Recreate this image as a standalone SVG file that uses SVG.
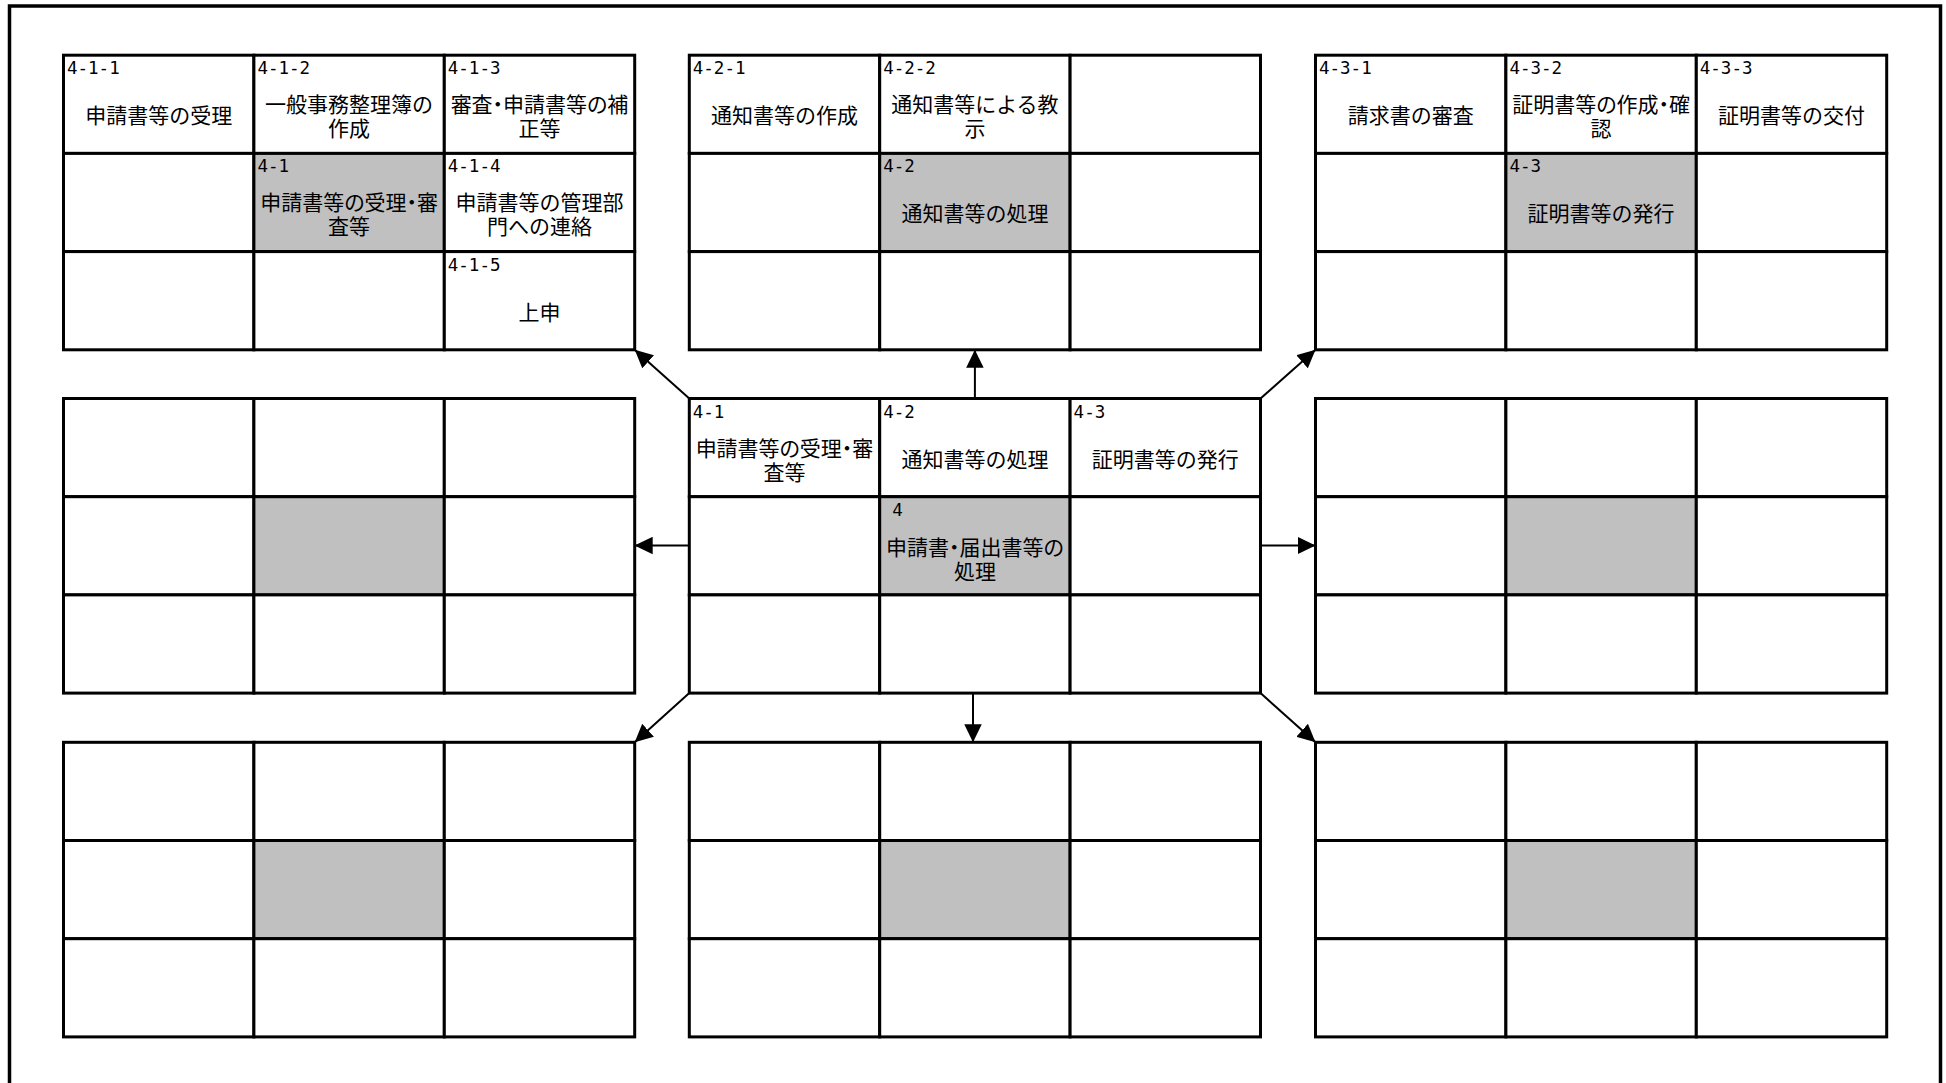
<svg xmlns="http://www.w3.org/2000/svg" width="1946" height="1083" viewBox="0 0 1946 1083">
<style>
.cell{fill:#fff;stroke:#000;stroke-width:3}
.hl{fill:#c0c0c0}
.lbl{font-family:"DejaVu Sans Mono","Liberation Mono",monospace;font-size:17.5px;fill:#000}
.txt{font-family:"Noto Sans CJK JP","Noto Sans CJK SC",sans-serif;font-size:21px;text-anchor:middle;fill:#000}
.p{font-feature-settings:"palt" 1}
.conn{stroke:#000;stroke-width:2;fill:none;marker-end:url(#ah)}
.frame{fill:none;stroke:#000;stroke-width:3.5}
</style>
<defs>
<marker id="ah" markerUnits="userSpaceOnUse" markerWidth="18" markerHeight="18" refX="18" refY="8.75" orient="auto" viewBox="0 0 18 17.5">
<path d="M0,0 L18,8.75 L0,17.5 Z" fill="#000"/>
</marker>
</defs>
<rect width="1946" height="1083" fill="#fff"/>
<path class="frame" d="M9.5,1090 V6 H1940.5 V1090"/>

<!-- Grid A top: 4-1 -->
<g id="grid-4-1">
<rect class="cell" x="63.5" y="55.2" width="190.4" height="98.2"/>
<rect class="cell" x="253.9" y="55.2" width="190.4" height="98.2"/>
<rect class="cell" x="444.3" y="55.2" width="190.4" height="98.2"/>
<rect class="cell" x="63.5" y="153.4" width="190.4" height="98.2"/>
<rect class="cell hl" x="253.9" y="153.4" width="190.4" height="98.2"/>
<rect class="cell" x="444.3" y="153.4" width="190.4" height="98.2"/>
<rect class="cell" x="63.5" y="251.6" width="190.4" height="98.2"/>
<rect class="cell" x="253.9" y="251.6" width="190.4" height="98.2"/>
<rect class="cell" x="444.3" y="251.6" width="190.4" height="98.2"/>
<text class="lbl" x="67" y="74.2">4-1-1</text>
<text class="txt" x="158.7" y="123.2">申請書等の受理</text>
<text class="lbl" x="257.4" y="74.2">4-1-2</text>
<text class="txt" x="349.1" y="112.2">一般事務整理簿の</text>
<text class="txt" x="349.1" y="136.2">作成</text>
<text class="lbl" x="447.8" y="74.2">4-1-3</text>
<text class="txt p" x="539.5" y="112.2">審査・申請書等の補</text>
<text class="txt" x="539.5" y="136.2">正等</text>
<text class="lbl" x="257.4" y="172.4">4-1</text>
<text class="txt p" x="349.1" y="210.4">申請書等の受理・審</text>
<text class="txt" x="349.1" y="234.4">査等</text>
<text class="lbl" x="447.8" y="172.4">4-1-4</text>
<text class="txt" x="539.5" y="210.4">申請書等の管理部</text>
<text class="txt" x="539.5" y="234.4">門への連絡</text>
<text class="lbl" x="447.8" y="270.6">4-1-5</text>
<text class="txt" x="539.5" y="319.6">上申</text>
</g>

<!-- Grid B top: 4-2 -->
<g id="grid-4-2">
<rect class="cell" x="689.3" y="55.2" width="190.4" height="98.2"/>
<rect class="cell" x="879.7" y="55.2" width="190.4" height="98.2"/>
<rect class="cell" x="1070.1" y="55.2" width="190.4" height="98.2"/>
<rect class="cell" x="689.3" y="153.4" width="190.4" height="98.2"/>
<rect class="cell hl" x="879.7" y="153.4" width="190.4" height="98.2"/>
<rect class="cell" x="1070.1" y="153.4" width="190.4" height="98.2"/>
<rect class="cell" x="689.3" y="251.6" width="190.4" height="98.2"/>
<rect class="cell" x="879.7" y="251.6" width="190.4" height="98.2"/>
<rect class="cell" x="1070.1" y="251.6" width="190.4" height="98.2"/>
<text class="lbl" x="692.8" y="74.2">4-2-1</text>
<text class="txt" x="784.5" y="123.2">通知書等の作成</text>
<text class="lbl" x="883.2" y="74.2">4-2-2</text>
<text class="txt" x="974.9" y="112.2">通知書等による教</text>
<text class="txt" x="974.9" y="136.2">示</text>
<text class="lbl" x="883.2" y="172.4">4-2</text>
<text class="txt" x="974.9" y="221.4">通知書等の処理</text>
</g>

<!-- Grid C top: 4-3 -->
<g id="grid-4-3">
<rect class="cell" x="1315.5" y="55.2" width="190.4" height="98.2"/>
<rect class="cell" x="1505.9" y="55.2" width="190.4" height="98.2"/>
<rect class="cell" x="1696.3" y="55.2" width="190.4" height="98.2"/>
<rect class="cell" x="1315.5" y="153.4" width="190.4" height="98.2"/>
<rect class="cell hl" x="1505.9" y="153.4" width="190.4" height="98.2"/>
<rect class="cell" x="1696.3" y="153.4" width="190.4" height="98.2"/>
<rect class="cell" x="1315.5" y="251.6" width="190.4" height="98.2"/>
<rect class="cell" x="1505.9" y="251.6" width="190.4" height="98.2"/>
<rect class="cell" x="1696.3" y="251.6" width="190.4" height="98.2"/>
<text class="lbl" x="1319" y="74.2">4-3-1</text>
<text class="txt" x="1410.7" y="123.2">請求書の審査</text>
<text class="lbl" x="1509.4" y="74.2">4-3-2</text>
<text class="txt p" x="1601.1" y="112.2">証明書等の作成・確</text>
<text class="txt" x="1601.1" y="136.2">認</text>
<text class="lbl" x="1699.8" y="74.2">4-3-3</text>
<text class="txt" x="1791.5" y="123.2">証明書等の交付</text>
<text class="lbl" x="1509.4" y="172.4">4-3</text>
<text class="txt" x="1601.1" y="221.4">証明書等の発行</text>
</g>

<!-- Grid A middle -->
<g id="grid-mid-left">
<rect class="cell" x="63.5" y="398.5" width="190.4" height="98.2"/>
<rect class="cell" x="253.9" y="398.5" width="190.4" height="98.2"/>
<rect class="cell" x="444.3" y="398.5" width="190.4" height="98.2"/>
<rect class="cell" x="63.5" y="496.7" width="190.4" height="98.2"/>
<rect class="cell hl" x="253.9" y="496.7" width="190.4" height="98.2"/>
<rect class="cell" x="444.3" y="496.7" width="190.4" height="98.2"/>
<rect class="cell" x="63.5" y="594.9" width="190.4" height="98.2"/>
<rect class="cell" x="253.9" y="594.9" width="190.4" height="98.2"/>
<rect class="cell" x="444.3" y="594.9" width="190.4" height="98.2"/>
</g>

<!-- Center grid: 4 -->
<g id="grid-4">
<rect class="cell" x="689.3" y="398.5" width="190.4" height="98.2"/>
<rect class="cell" x="879.7" y="398.5" width="190.4" height="98.2"/>
<rect class="cell" x="1070.1" y="398.5" width="190.4" height="98.2"/>
<rect class="cell" x="689.3" y="496.7" width="190.4" height="98.2"/>
<rect class="cell hl" x="879.7" y="496.7" width="190.4" height="98.2"/>
<rect class="cell" x="1070.1" y="496.7" width="190.4" height="98.2"/>
<rect class="cell" x="689.3" y="594.9" width="190.4" height="98.2"/>
<rect class="cell" x="879.7" y="594.9" width="190.4" height="98.2"/>
<rect class="cell" x="1070.1" y="594.9" width="190.4" height="98.2"/>
<text class="lbl" x="692.8" y="417.5">4-1</text>
<text class="txt p" x="784.5" y="455.5">申請書等の受理・審</text>
<text class="txt" x="784.5" y="479.5">査等</text>
<text class="lbl" x="883.2" y="417.5">4-2</text>
<text class="txt" x="974.9" y="466.5">通知書等の処理</text>
<text class="lbl" x="1073.6" y="417.5">4-3</text>
<text class="txt" x="1165.3" y="466.5">証明書等の発行</text>
<text class="lbl" x="892.2" y="516">4</text>
<text class="txt p" x="974.9" y="554.7">申請書・届出書等の</text>
<text class="txt" x="974.9" y="578.7">処理</text>
</g>

<!-- Grid C middle -->
<g id="grid-mid-right">
<rect class="cell" x="1315.5" y="398.5" width="190.4" height="98.2"/>
<rect class="cell" x="1505.9" y="398.5" width="190.4" height="98.2"/>
<rect class="cell" x="1696.3" y="398.5" width="190.4" height="98.2"/>
<rect class="cell" x="1315.5" y="496.7" width="190.4" height="98.2"/>
<rect class="cell hl" x="1505.9" y="496.7" width="190.4" height="98.2"/>
<rect class="cell" x="1696.3" y="496.7" width="190.4" height="98.2"/>
<rect class="cell" x="1315.5" y="594.9" width="190.4" height="98.2"/>
<rect class="cell" x="1505.9" y="594.9" width="190.4" height="98.2"/>
<rect class="cell" x="1696.3" y="594.9" width="190.4" height="98.2"/>
</g>

<!-- Bottom grids -->
<g id="grid-bottom-left">
<rect class="cell" x="63.5" y="742.3" width="190.4" height="98.2"/>
<rect class="cell" x="253.9" y="742.3" width="190.4" height="98.2"/>
<rect class="cell" x="444.3" y="742.3" width="190.4" height="98.2"/>
<rect class="cell" x="63.5" y="840.5" width="190.4" height="98.2"/>
<rect class="cell hl" x="253.9" y="840.5" width="190.4" height="98.2"/>
<rect class="cell" x="444.3" y="840.5" width="190.4" height="98.2"/>
<rect class="cell" x="63.5" y="938.7" width="190.4" height="98.2"/>
<rect class="cell" x="253.9" y="938.7" width="190.4" height="98.2"/>
<rect class="cell" x="444.3" y="938.7" width="190.4" height="98.2"/>
</g>
<g id="grid-bottom-center">
<rect class="cell" x="689.3" y="742.3" width="190.4" height="98.2"/>
<rect class="cell" x="879.7" y="742.3" width="190.4" height="98.2"/>
<rect class="cell" x="1070.1" y="742.3" width="190.4" height="98.2"/>
<rect class="cell" x="689.3" y="840.5" width="190.4" height="98.2"/>
<rect class="cell hl" x="879.7" y="840.5" width="190.4" height="98.2"/>
<rect class="cell" x="1070.1" y="840.5" width="190.4" height="98.2"/>
<rect class="cell" x="689.3" y="938.7" width="190.4" height="98.2"/>
<rect class="cell" x="879.7" y="938.7" width="190.4" height="98.2"/>
<rect class="cell" x="1070.1" y="938.7" width="190.4" height="98.2"/>
</g>
<g id="grid-bottom-right">
<rect class="cell" x="1315.5" y="742.3" width="190.4" height="98.2"/>
<rect class="cell" x="1505.9" y="742.3" width="190.4" height="98.2"/>
<rect class="cell" x="1696.3" y="742.3" width="190.4" height="98.2"/>
<rect class="cell" x="1315.5" y="840.5" width="190.4" height="98.2"/>
<rect class="cell hl" x="1505.9" y="840.5" width="190.4" height="98.2"/>
<rect class="cell" x="1696.3" y="840.5" width="190.4" height="98.2"/>
<rect class="cell" x="1315.5" y="938.7" width="190.4" height="98.2"/>
<rect class="cell" x="1505.9" y="938.7" width="190.4" height="98.2"/>
<rect class="cell" x="1696.3" y="938.7" width="190.4" height="98.2"/>
</g>

<g id="connectors">
<path class="conn" d="M689.3,398.5 L634.7,349.8"/>
<path class="conn" d="M974.9,398.5 L974.9,349.8"/>
<path class="conn" d="M1260.5,398.5 L1315.5,349.8"/>
<path class="conn" d="M689.3,545.5 L634.7,545.5"/>
<path class="conn" d="M1260.5,545.5 L1315.5,545.5"/>
<path class="conn" d="M689.3,693.1 L634.7,742.3"/>
<path class="conn" d="M973,693.1 L973,742.3"/>
<path class="conn" d="M1260.5,693.1 L1315.5,742.3"/>
</g>
</svg>
